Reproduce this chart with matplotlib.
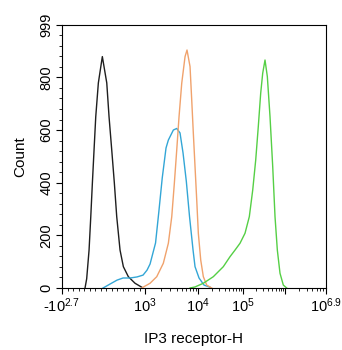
import numpy as np
import matplotlib
matplotlib.use("Agg")
import matplotlib.pyplot as plt
from matplotlib.ticker import FixedLocator, NullFormatter

plt.rcParams['font.family'] = ['Liberation Sans', 'DejaVu Sans']
plt.rcParams['mathtext.fontset'] = 'custom'
plt.rcParams['mathtext.rm'] = 'Liberation Sans'
plt.rcParams['mathtext.it'] = 'Liberation Sans'

# ---------------- data ----------------
black_x = [-85, -55, -12, 19, 48, 78, 109, 156, 228, 308, 349, 398, 445, 488, 548, 608, 698, 819, 940]
black_y = [0, 35, 144, 271, 399, 524, 651, 779, 879, 779, 651, 524, 399, 271, 144, 81, 43, 18, 3]

cyan_x = [241, 367, 494, 602, 729, 855, 964, 1091, 1243, 1578, 1820, 2111, 2489, 2754, 3420,
          3963, 4571, 5212, 6013, 6913, 8054, 8775, 10525, 13594, 18478]
cyan_y = [0, 15, 30, 38, 38, 42, 49, 68, 91, 171, 289, 418, 532, 562, 600,
          606, 589, 513, 405, 271, 144, 81, 38, 11, 3]

orange_x = [940, 1243, 1663, 2213, 2754, 3192, 3573, 3963, 4381, 4926, 5689, 6196, 7064, 7603,
            8146, 8775, 9451, 10154, 11482, 13121, 15603, 20137]
orange_y = [0, 18, 43, 94, 170, 271, 398, 524, 651, 778, 879, 904, 841, 714,
            589, 461, 334, 208, 106, 43, 11, 0]

green_x = [7064, 8775, 13121, 21878, 36475, 51404, 66374, 85770, 111600, 141254, 170200, 200500,
           231000, 263600, 294400, 334000, 379400, 439400, 509600, 578000, 656500, 760000,
           912000, 1089000]
green_y = [0, 4, 18, 43, 81, 119, 144, 170, 208, 271, 372, 486,
           613, 740, 816, 866, 803, 651, 461, 271, 144, 56, 11, 0]

x_ticks = [-10 ** 2.7, 1e3, 1e4, 1e5, 1e6, 10 ** 6.9]
x_tick_labels = [r'-$\mathregular{10^{2.7}}$', r'$\mathregular{10^{3}}$', r'$\mathregular{10^{4}}$',
                 r'$\mathregular{10^{5}}$', '', r'$\mathregular{10^{6.9}}$']
y_ticks = [0, 200, 400, 600, 800, 999]

# ---------------- biexponential-like axis scale ----------------
U = np.array([-0.5, 1.0, 2.0, 3.0, 4.0, 4.9])
P = np.array([0.0, 83.0, 136.0, 181.0, 223.0, 264.0])


def _interp_ext(v, xs, ys):
    v = np.asarray(v, float)
    out = np.interp(v, xs, ys)
    lo = v < xs[0]
    hi = v > xs[-1]
    s0 = (ys[1] - ys[0]) / (xs[1] - xs[0])
    s1 = (ys[-1] - ys[-2]) / (xs[-1] - xs[-2])
    out = np.where(lo, ys[0] + (v - xs[0]) * s0, out)
    out = np.where(hi, ys[-1] + (v - xs[-1]) * s1, out)
    return out


def fwd(x):
    x = np.asarray(x, float)
    with np.errstate(all='ignore'):
        u = np.where(x <= 1000, x / 1000.0,
                     1 + np.log10(np.clip(x, 1000, None) / 1000.0))
    return _interp_ext(u, U, P)


def inv(p):
    u = _interp_ext(p, P, U)
    with np.errstate(all='ignore'):
        return np.where(u <= 1, u * 1000.0, 1000.0 * 10 ** (np.clip(u, 1, 60) - 1))


# ---------------- figure ----------------
fig = plt.figure(figsize=(3.42, 3.50), dpi=100)
ax = fig.add_axes([62 / 342, 1 - 288 / 350, (326 - 62) / 342, (288 - 25) / 350])
ax.set_xscale('function', functions=(fwd, inv))

lw = 1.0
ax.plot(black_x, black_y, color='#1e1e1e', lw=lw)
ax.plot(cyan_x, cyan_y, color='#33a6d6', lw=lw)
ax.plot(orange_x, orange_y, color='#f0a26c', lw=lw)
ax.plot(green_x, green_y, color='#55cf45', lw=lw)

ax.set_xlim(-10 ** 2.7, 10 ** 6.9)
ax.set_ylim(0, 999)

ax.xaxis.set_major_locator(FixedLocator(x_ticks))
ax.set_xticklabels(x_tick_labels)
minors = list(range(-400, 1000, 100))
for d in [1e3, 1e4, 1e5, 1e6]:
    for m in range(2, 10):
        if d * m < 10 ** 6.9:
            minors.append(d * m)
ax.xaxis.set_minor_locator(FixedLocator(minors))
ax.xaxis.set_minor_formatter(NullFormatter())

ax.set_yticks(y_ticks)
ax.set_yticklabels([str(v) for v in y_ticks], rotation=90, va='center')
ax.yaxis.set_minor_locator(FixedLocator([v for v in range(0, 1000, 40) if v not in y_ticks]))

ax.tick_params(which='major', length=4, width=0.8, direction='out', labelsize=10.5, pad=2)
ax.tick_params(which='minor', length=2, width=0.6, direction='out')
for s in ax.spines.values():
    s.set_linewidth(0.8)

ax.set_xlabel('IP3 receptor-H', fontsize=11, labelpad=12)
ax.set_ylabel('Count', fontsize=11, labelpad=9)

fig.savefig('out.png', dpi=100)
